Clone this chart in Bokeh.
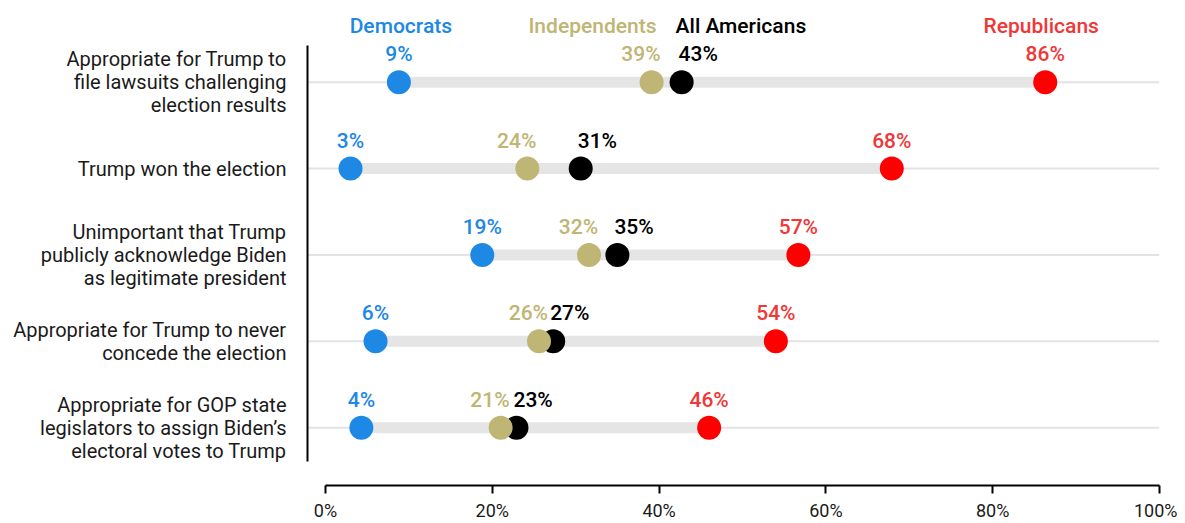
from bokeh.plotting import figure
from bokeh.models import Range1d, FixedTicker, ColumnDataSource, PrintfTickFormatter
from bokeh.core.properties import value
from bokeh.embed import file_html
from bokeh.resources import INLINE

categories = [
    "Appropriate for Trump to\nfile lawsuits challenging\nelection results",
    "Trump won the election",
    "Unimportant that Trump\npublicly acknowledge Biden\nas legitimate president",
    "Appropriate for Trump to never\nconcede the election",
    "Appropriate for GOP state\nlegislators to assign Biden\u2019s\nelectoral votes to Trump",
]
# dot positions (in %)
democrats = [8.8, 3.0, 18.8, 6.0, 4.3]
independents = [39.1, 24.2, 31.6, 25.6, 21.0]
all_americans = [42.7, 30.6, 35.0, 27.3, 22.9]
republicans = [86.3, 67.9, 56.7, 54.0, 46.0]
# printed labels (rounded %)
democrats_lbl = [9, 3, 19, 6, 4]
independents_lbl = [39, 24, 32, 26, 21]
all_americans_lbl = [43, 31, 35, 27, 23]
republicans_lbl = [86, 68, 57, 54, 46]
series_names = ["Democrats", "Independents", "All Americans", "Republicans"]
x_ticks = [0, 20, 40, 60, 80, 100]

BLUE = "#1e88e5"
TAN = "#bfb574"
BLACK = "#000000"
RED = "#ff0000"
RED_TXT = "#f03838"
FONT = "Roboto"
LFONT = "Roboto Medium"

PX_Y = 86.75   # pixels per row unit
PX_X = 8.336   # pixels per percent
TOP = 8        # top border
LEFT = 307     # left border

n = len(categories)
rows = [n - i for i in range(n)]  # top row = 5

p = figure(width=1177, height=523, output_backend="svg", toolbar_location=None,
           x_range=Range1d(-18 / PX_X, 100), y_range=Range1d(5 - 405 / PX_Y, 5 + 74 / PX_Y),
           min_border_left=LEFT, min_border_right=1177 - 1159, min_border_top=TOP, min_border_bottom=0)
p.outline_line_color = None
p.grid.visible = False
p.background_fill_color = "white"
p.border_fill_color = "white"

# thin gray guide lines
p.segment(x0=[p.x_range.start] * n, x1=[100] * n, y0=rows, y1=rows,
          line_color="#e3e3e3", line_width=2)
# thick range bars
lo = [min(a, b, c, d) for a, b, c, d in zip(democrats, independents, all_americans, republicans)]
hi = [max(a, b, c, d) for a, b, c, d in zip(democrats, independents, all_americans, republicans)]
p.segment(x0=lo, x1=hi, y0=rows, y1=rows, line_color="#e5e5e5", line_width=11, line_cap="butt")

src = ColumnDataSource(dict(y=rows, d=democrats, i=independents, a=all_americans, r=republicans,
                            dl=[f"{v}%" for v in democrats_lbl], il=[f"{v}%" for v in independents_lbl],
                            al=[f"{v}%" for v in all_americans_lbl], rl=[f"{v}%" for v in republicans_lbl],
                            ly=[v + 28 / PX_Y for v in rows]))

SZ = 24
p.scatter(x="d", y="y", source=src, size=SZ, color=BLUE, line_color=None)
p.scatter(x="r", y="y", source=src, size=SZ, color=RED, line_color=None)
p.scatter(x="a", y="y", source=src, size=SZ, color=BLACK, line_color=None)
p.scatter(x="i", y="y", source=src, size=SZ, color=TAN, line_color=None)

common = dict(text_font=value(LFONT), text_font_size="21px", text_font_style="normal",
              text_baseline="alphabetic")
p.text(x="d", y="ly", text="dl", source=src, text_color=BLUE, text_align="center", **common)
p.text(x="r", y="ly", text="rl", source=src, text_color=RED_TXT, text_align="center", **common)
p.text(x="i", y="ly", text="il", source=src, text_color=TAN, text_align="right", x_offset=9, **common)
p.text(x="a", y="ly", text="al", source=src, text_color=BLACK, text_align="left", x_offset=-3, **common)

# series headers above the top row
hy = rows[0] + 56 / PX_Y
p.text(x=[democrats[0]], y=[hy], text=[series_names[0]], text_color=BLUE, text_align="center", x_offset=2, **common)
p.text(x=[independents[0]], y=[hy], text=[series_names[1]], text_color=TAN, text_align="right", x_offset=5, **common)
p.text(x=[all_americans[0]], y=[hy], text=[series_names[2]], text_color=BLACK, text_align="left", x_offset=-6, **common)
p.text(x=[republicans[0]], y=[hy], text=[series_names[3]], text_color=RED_TXT, text_align="center", x_offset=-4, **common)

# y axis
ya = p.yaxis[0]
ya.ticker = FixedTicker(ticks=rows)
ya.major_label_overrides = {r: c for r, c in zip(rows, categories)}
ya.bounds = (5 - 381 / PX_Y, 5 + 37 / PX_Y)
ya.axis_line_width = 2
ya.axis_line_color = "black"
ya.major_tick_line_color = None
ya.minor_tick_line_color = None
ya.major_label_standoff = 15
ya.major_label_text_font = FONT
ya.major_label_text_font_size = "20px"
ya.major_label_text_line_height = 0.96
ya.major_label_text_color = "#1a1a1a"

# x axis
xa = p.xaxis[0]
xa.ticker = FixedTicker(ticks=x_ticks)
xa.formatter = PrintfTickFormatter(format="%d%%")
xa.bounds = (0, 100)
xa.axis_line_width = 2
xa.axis_line_color = "black"
xa.major_tick_line_color = "black"
xa.major_tick_line_width = 2
xa.major_tick_out = 8
xa.major_tick_in = 0
xa.minor_tick_line_color = None
xa.major_label_standoff = 6
xa.major_label_text_font = FONT
xa.major_label_text_font_size = "18px"
xa.major_label_text_color = "#1a1a1a"

open("out.html", "w").write(file_html(p, INLINE))
